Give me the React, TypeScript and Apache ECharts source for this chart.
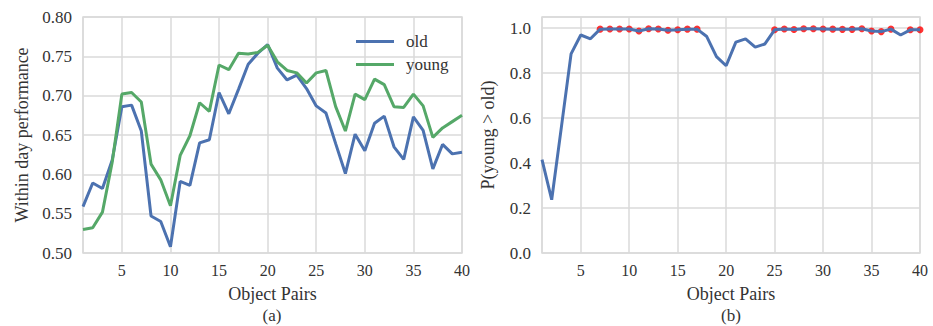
import React, { useEffect, useRef } from "react";
import * as echarts from "echarts";

const objectPairs = [
  1, 2, 3, 4, 5, 6, 7, 8, 9, 10, 11, 12, 13, 14, 15, 16, 17, 18, 19, 20,
  21, 22, 23, 24, 25, 26, 27, 28, 29, 30, 31, 32, 33, 34, 35, 36, 37, 38, 39, 40,
];

const oldPerf = [
  0.559, 0.589, 0.582, 0.618, 0.686, 0.688, 0.655, 0.547, 0.54, 0.508,
  0.591, 0.586, 0.64, 0.644, 0.704, 0.677, 0.708, 0.74, 0.754, 0.765,
  0.735, 0.72, 0.726, 0.709, 0.687, 0.678, 0.639, 0.601, 0.651, 0.63,
  0.665, 0.674, 0.635, 0.619, 0.673, 0.656, 0.607, 0.638, 0.626, 0.628,
];

const youngPerf = [
  0.53, 0.532, 0.552, 0.615, 0.702, 0.704, 0.692, 0.613, 0.593, 0.56,
  0.624, 0.649, 0.691, 0.68, 0.739, 0.733, 0.754, 0.753, 0.755, 0.764,
  0.743, 0.732, 0.729, 0.716, 0.729, 0.732, 0.686, 0.655, 0.702, 0.695,
  0.721, 0.714, 0.686, 0.685, 0.702, 0.687, 0.647, 0.659, 0.667, 0.675,
];

const pYoungGtOld = [
  0.415, 0.237, 0.56, 0.886, 0.97, 0.953, 0.996, 0.997, 0.997, 0.997,
  0.988, 0.998, 0.997, 0.991, 0.993, 0.996, 0.996, 0.963, 0.874, 0.833,
  0.938, 0.953, 0.916, 0.93, 0.993, 0.997, 0.994, 0.998, 0.998, 0.997,
  0.996, 0.995, 0.995, 0.998, 0.988, 0.985, 0.996, 0.97, 0.993, 0.993,
];

const significantPairs = [
  7, 8, 9, 10, 11, 12, 13, 14, 15, 16, 17,
  25, 26, 27, 28, 29, 30, 31, 32, 33, 34, 35, 36, 37, 39, 40,
];

const FONT = "Liberation Serif";
const TEXT = "#333333";
const GRID = "#dadada";
const BLUE = "#4C72B0";
const GREEN = "#55A868";

export default function App() {
  const ref = useRef<HTMLDivElement>(null);

  useEffect(() => {
    if (!ref.current) return;
    const chart = echarts.init(ref.current, undefined, { renderer: "svg" });

    const xAxisBase = (gridIndex: number) => ({
      type: "value" as const,
      gridIndex,
      min: 1,
      max: 40,
      splitNumber: 8,
      minInterval: 5,
      maxInterval: 5,
      name: "Object Pairs",
      nameLocation: "middle" as const,
      nameGap: 32,
      nameTextStyle: { fontFamily: FONT, fontSize: 18, color: TEXT },
      axisLine: { show: false },
      axisTick: { show: false },
      axisLabel: {
        showMinLabel: false,
        margin: 9,
        fontFamily: FONT,
        fontSize: 16,
        color: TEXT,
      },
      splitLine: { show: true, lineStyle: { color: GRID, width: 1.5 } },
    });

    const pair = (vals: number[]) => objectPairs.map((x, i) => [x, vals[i]]);

    chart.setOption({
      animation: false,
      backgroundColor: "#ffffff",
      grid: [
        {
          left: 83,
          top: 17,
          width: 379,
          height: 236,
          show: true,
          borderColor: GRID,
          borderWidth: 1.5,
          backgroundColor: "transparent",
        },
        {
          left: 542,
          top: 17,
          width: 378,
          height: 236,
          show: true,
          borderColor: GRID,
          borderWidth: 1.5,
          backgroundColor: "transparent",
        },
      ],
      xAxis: [xAxisBase(0), xAxisBase(1)],
      yAxis: [
        {
          type: "value",
          gridIndex: 0,
          min: 0.5,
          max: 0.8,
          interval: 0.05,
          name: "Within day performance",
          nameLocation: "middle",
          nameGap: 52,
          nameTextStyle: { fontFamily: FONT, fontSize: 18, color: TEXT },
          axisLine: { show: false },
          axisTick: { show: false },
          axisLabel: {
            margin: 11,
            fontFamily: FONT,
            fontSize: 17,
            color: TEXT,
            formatter: (v: number) => v.toFixed(2),
          },
          splitLine: { show: true, lineStyle: { color: GRID, width: 1.5 } },
        },
        {
          type: "value",
          gridIndex: 1,
          min: 0,
          max: 1.05,
          interval: 0.2,
          name: "P(young > old)",
          nameLocation: "middle",
          nameGap: 45,
          nameTextStyle: { fontFamily: FONT, fontSize: 18, color: TEXT },
          axisLine: { show: false },
          axisTick: { show: false },
          axisLabel: {
            showMaxLabel: false,
            margin: 11,
            fontFamily: FONT,
            fontSize: 17,
            color: TEXT,
            formatter: (v: number) => v.toFixed(1),
          },
          splitLine: { show: true, lineStyle: { color: GRID, width: 1.5 } },
        },
      ],
      legend: {
        orient: "vertical",
        left: 351,
        top: 28,
        icon: "rect",
        itemWidth: 38,
        itemHeight: 3,
        itemGap: 6,
        data: ["old", "young"],
        textStyle: {
          fontFamily: FONT,
          fontSize: 17,
          color: TEXT,
          padding: [0, 0, 0, 7],
        },
      },
      series: [
        {
          name: "old",
          type: "line",
          xAxisIndex: 0,
          yAxisIndex: 0,
          data: pair(oldPerf),
          symbol: "none",
          lineStyle: { color: BLUE, width: 3 },
          itemStyle: { color: BLUE },
        },
        {
          name: "young",
          type: "line",
          xAxisIndex: 0,
          yAxisIndex: 0,
          data: pair(youngPerf),
          symbol: "none",
          lineStyle: { color: GREEN, width: 3 },
          itemStyle: { color: GREEN },
        },
        {
          name: "P",
          type: "line",
          xAxisIndex: 1,
          yAxisIndex: 1,
          data: pair(pYoungGtOld),
          symbol: "none",
          lineStyle: { color: BLUE, width: 3 },
          itemStyle: { color: BLUE },
        },
        {
          name: "significant",
          type: "scatter",
          xAxisIndex: 1,
          yAxisIndex: 1,
          data: significantPairs.map((x) => [x, pYoungGtOld[x - 1]]),
          symbol: "circle",
          symbolSize: 7,
          itemStyle: { color: "#ff0000" },
        },
      ],
      graphic: [
        {
          type: "text",
          left: 83 + 379 / 2 - 10,
          top: 307,
          style: { text: "(a)", fontFamily: FONT, fontSize: 17, fill: TEXT },
        },
        {
          type: "text",
          left: 542 + 378 / 2 - 10,
          top: 307,
          style: { text: "(b)", fontFamily: FONT, fontSize: 17, fill: TEXT },
        },
      ],
    });

    return () => chart.dispose();
  }, []);

  return (
    <div
      ref={ref}
      style={{ position: "absolute", left: 0, top: 0, width: 933, height: 326 }}
    />
  );
}
